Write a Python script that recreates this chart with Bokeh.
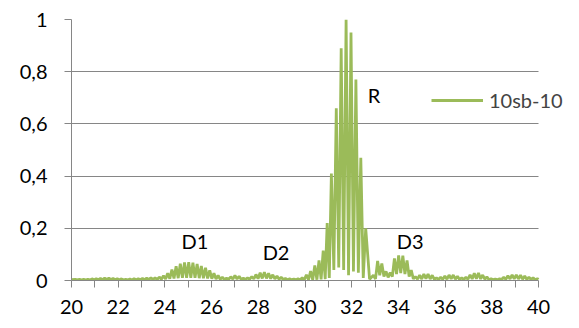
import numpy as np
from bokeh.plotting import figure
from bokeh.models import Range1d, FixedTicker, Legend, LegendItem, Label, CustomJSTickFormatter
from bokeh.embed import file_html
from bokeh.resources import INLINE

# ---- data ----
series_name = "10sb-10"
x_ticks = [20, 22, 24, 26, 28, 30, 32, 34, 36, 38, 40]
x_minor = [21, 23, 25, 27, 29, 31, 33, 35, 37, 39]
y_ticks = [0, 0.2, 0.4, 0.6, 0.8, 1]
x_min, x_max = 20, 40

# peak positions of the oscillation (three regions with different spacing)
peaks_x_a = [round(20.16 + 0.18 * k, 2) for k in range(60)]
peaks_x_b = [30.95, 31.13, 31.34, 31.55, 31.76, 31.97, 32.18, 32.39, 32.60]
peaks_x_c = [round(32.93 + 0.18 * k, 2) for k in range(40)]

peaks_y_a = [0.004, 0.004, 0.005, 0.005, 0.006, 0.007, 0.008, 0.009, 0.009, 0.008,
             0.007, 0.006, 0.005, 0.006, 0.007, 0.007, 0.008, 0.009, 0.010, 0.010,
             0.013, 0.018, 0.028, 0.042, 0.055, 0.064, 0.069, 0.070, 0.068, 0.063,
             0.056, 0.049, 0.039, 0.028, 0.019, 0.012, 0.009, 0.014, 0.019, 0.016,
             0.009, 0.010, 0.015, 0.023, 0.030, 0.032, 0.028, 0.022, 0.017, 0.012,
             0.008, 0.006, 0.005, 0.006, 0.010, 0.022, 0.036, 0.058, 0.077, 0.115]
peaks_y_b = [0.22, 0.41, 0.66, 0.89, 1.0, 0.95, 0.77, 0.47, 0.20]
peaks_y_c = [0.020, 0.075, 0.065, 0.035, 0.030, 0.085, 0.096, 0.095, 0.077, 0.040,
             0.015, 0.020, 0.025, 0.025, 0.020, 0.010, 0.012, 0.017, 0.021, 0.021,
             0.016, 0.010, 0.012, 0.022, 0.028, 0.029, 0.021, 0.014, 0.007, 0.005,
             0.006, 0.012, 0.018, 0.022, 0.022, 0.020, 0.017, 0.013, 0.010, 0.007]

# trough values between consecutive peaks
troughs_y = [0.002, 0.002, 0.002, 0.002, 0.003, 0.003, 0.003, 0.004, 0.004, 0.003,
             0.003, 0.002, 0.002, 0.002, 0.003, 0.003, 0.003, 0.004, 0.004, 0.004,
             0.005, 0.006, 0.007, 0.008, 0.009, 0.010, 0.010, 0.010, 0.010, 0.009,
             0.009, 0.008, 0.007, 0.006, 0.005, 0.004, 0.005, 0.006, 0.006, 0.004,
             0.004, 0.005, 0.006, 0.007, 0.008, 0.008, 0.007, 0.006, 0.005, 0.004,
             0.003, 0.003, 0.003, 0.003, 0.003, 0.003, 0.003, 0.003, 0.004,
             0.005,
             0.010, 0.040, 0.050, 0.040, 0.020, 0.035, 0.030, 0.010,
             0.005,
             0.006, 0.020, 0.015, 0.012, 0.015, 0.025, 0.028, 0.025, 0.015, 0.006,
             0.005, 0.006, 0.007, 0.006, 0.004, 0.004, 0.005, 0.005, 0.006, 0.005,
             0.004, 0.004, 0.005, 0.006, 0.007, 0.006, 0.005, 0.003, 0.003, 0.003,
             0.004, 0.005, 0.006, 0.006, 0.006, 0.005, 0.004, 0.004, 0.003]
start_point = (20.0, 0.003)
end_point = (40.0, 0.004)

annotations = [("D1", 25.29, 0.15), ("D2", 28.76, 0.11), ("R", 32.96, 0.71), ("D3", 34.50, 0.15)]

# ---- assemble the polyline ----
px = np.array(peaks_x_a + peaks_x_b + peaks_x_c)
py = np.array(peaks_y_a + peaks_y_b + peaks_y_c)
tx = (px[:-1] + px[1:]) / 2
ty = np.array(troughs_y)
xs = [start_point[0]]
ys = [start_point[1]]
for i in range(len(px)):
    xs.append(px[i]); ys.append(py[i])
    if i < len(tx):
        xs.append(tx[i]); ys.append(ty[i])
xs.append(end_point[0]); ys.append(end_point[1])

FONT = "Lato"
GRAY = "#868686"
GREEN = "#9BBB59"

# frame extends to the right page edge so the legend text is not clipped;
# the axis and grid lines are bounded to 20..40
W, H = 579, 328
LEFT, RIGHT_AXIS_END = 71, 538
units_per_px = (x_max - x_min) / (RIGHT_AXIS_END - LEFT)
x_end = x_min + (W - LEFT) * units_per_px

p = figure(width=W, height=H, output_backend="svg", toolbar_location=None,
           x_range=Range1d(x_min, x_end), y_range=Range1d(0, 1),
           min_border_left=LEFT, min_border_right=0, min_border_top=19, min_border_bottom=48)
p.outline_line_color = None
p.background_fill_color = "white"
p.border_fill_color = "white"

r = p.line(xs, ys, line_color=GREEN, line_width=2.8)

p.xgrid.visible = False
p.ygrid.grid_line_color = GRAY
p.ygrid.grid_line_width = 1
p.ygrid.ticker = FixedTicker(ticks=y_ticks)
if "cross_bounds" in p.ygrid[0].properties():
    p.ygrid.cross_bounds = (x_min, x_max)

p.xaxis.ticker = FixedTicker(ticks=x_ticks, minor_ticks=x_minor)
p.xaxis.bounds = (x_min, x_max)
p.yaxis.ticker = FixedTicker(ticks=y_ticks)
p.yaxis.formatter = CustomJSTickFormatter(code="""
    let s = tick.toFixed(1).replace('.', ',');
    if (s.endsWith(',0')) s = s.slice(0, -2);
    return s;
""")
for ax in (p.xaxis[0], p.yaxis[0]):
    ax.axis_line_color = GRAY
    ax.axis_line_width = 1
    ax.major_tick_line_color = GRAY
    ax.minor_tick_line_color = GRAY
    ax.major_tick_in = 0
    ax.minor_tick_in = 0
    ax.major_tick_out = 7
    ax.minor_tick_out = 7
    ax.major_label_text_font = FONT
    ax.major_label_text_font_size = "20px"
    ax.major_label_text_color = "black"
p.yaxis.minor_tick_line_color = None
p.xaxis.major_label_standoff = 12
p.yaxis.major_label_standoff = 17

for txt, x, y in annotations:
    p.add_layout(Label(x=x, y=y, text=txt, text_font=FONT, text_font_size="20px",
                       text_align="center", text_baseline="middle", text_color="black"))

legend = Legend(items=[LegendItem(label=series_name, renderers=[r])],
                location=(360, 168), glyph_width=52, glyph_height=20, label_height=20,
                label_standoff=6, padding=0, margin=0, spacing=0,
                label_text_font=FONT, label_text_font_size="20px",
                border_line_color=None, background_fill_alpha=0)
p.add_layout(legend)

open("out.html", "w").write(file_html(p, INLINE))
